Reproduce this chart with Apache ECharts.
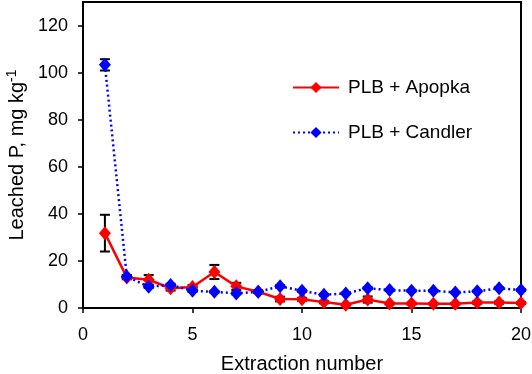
<!DOCTYPE html>
<html>
<head>
<meta charset="utf-8">
<script src="https://cdn.jsdelivr.net/npm/echarts@6/dist/echarts.min.js"></script>
<style>
  html, body { margin: 0; padding: 0; background: #fff; }
  #chart { width: 532px; height: 374px; }
</style>
</head>
<body>
<div id="chart"></div>
<script>
// extraction number on x
var extraction = [1, 2, 3, 4, 5, 6, 7, 8, 9, 10, 11, 12, 13, 14, 15, 16, 17, 18, 19, 20];
// leached P, mg/kg
var apopka = [31.8, 13.0, 12.0, 8.4, 8.9, 15.3, 9.2, 6.9, 3.8, 3.7, 2.5, 1.4, 3.6, 1.9, 1.9, 1.8, 1.8, 2.3, 2.3, 2.1];
var apopkaErr = [7.8, 0.8, 2.0, 1.0, 0.8, 3.0, 1.5, 0.6, 1.0, 0.6, 0.5, 0.3, 1.3, 0.4, 0.4, 0.3, 0.3, 0.5, 0.5, 0.4];
var candler = [103.3, 13.4, 9.0, 9.8, 7.3, 6.9, 6.2, 6.9, 9.2, 7.3, 5.6, 6.2, 8.4, 7.6, 7.3, 7.3, 6.6, 7.1, 8.4, 7.6];
var candlerErr = [2.4, 0.6, 0.5, 0.5, 0.4, 0.4, 0.4, 0.4, 0.5, 0.4, 0.3, 0.3, 0.4, 0.3, 0.3, 0.3, 0.3, 0.3, 0.4, 0.3];
var yTicks = [0, 20, 40, 60, 80, 100, 120];

function pairs(ys) {
    return extraction.map(function (x, i) { return [x, ys[i]]; });
}
function errData(ys, es) {
    return extraction.map(function (x, i) { return [x, ys[i] - es[i], ys[i] + es[i]]; });
}

// error bars (black with caps)
function renderErr(params, api) {
    var x = api.value(0);
    var lo = api.coord([x, api.value(1)]);
    var hi = api.coord([x, api.value(2)]);
    var w = 5;
    var st = { stroke: '#000', lineWidth: 2 };
    return {
        type: 'group',
        children: [
            { type: 'line', shape: { x1: lo[0], y1: lo[1], x2: hi[0], y2: hi[1] }, style: st },
            { type: 'line', shape: { x1: hi[0] - w, y1: hi[1], x2: hi[0] + w, y2: hi[1] }, style: st },
            { type: 'line', shape: { x1: lo[0] - w, y1: lo[1], x2: lo[0] + w, y2: lo[1] }, style: st }
        ]
    };
}

var font = 'Liberation Sans, Arial, sans-serif';
var myChart = echarts.init(document.getElementById('chart'));
myChart.setOption({
    animation: false,
    textStyle: { fontFamily: font },
    grid: { left: 83, right: 11, top: 2, bottom: 66, outerBoundsMode: 'none', containLabel: false },
    legend: {
        data: ['PLB + Apopka', 'PLB + Candler'],
        orient: 'vertical',
        left: 287,
        top: 73,
        itemWidth: 46,
        itemHeight: 14,
        itemGap: 26,
        textStyle: { fontSize: 19, color: '#000', fontFamily: font, padding: [0, 0, 0, 4] }
    },
    xAxis: {
        type: 'value',
        min: 0, max: 20, interval: 5,
        name: 'Extraction number',
        nameLocation: 'middle',
        nameGap: 46,
        nameTextStyle: { fontSize: 20, color: '#000' },
        axisLine: { lineStyle: { color: '#000', width: 2 } },
        axisTick: { length: 5, lineStyle: { color: '#000', width: 1.5 } },
        axisLabel: { fontSize: 18, color: '#000', margin: 18 },
        splitLine: { show: false }
    },
    yAxis: {
        type: 'value',
        min: 0, max: 130, interval: 20,
        name: '{a|Leached P, mg kg}{s|-1}',
        nameLocation: 'middle',
        nameGap: 50,
        nameTextStyle: {
            rich: {
                a: { fontSize: 20, color: '#000', fontFamily: font },
                s: { fontSize: 14, color: '#000', fontFamily: font, verticalAlign: 'top', padding: [0, 0, 10, 0] }
            }
        },
        axisLine: { lineStyle: { color: '#000', width: 2 } },
        axisTick: { length: 5, customValues: yTicks, lineStyle: { color: '#000', width: 1.5 } },
        axisLabel: { fontSize: 18, color: '#000', margin: 15, customValues: yTicks },
        splitLine: { show: false }
    },
    graphic: [{
        type: 'rect',
        shape: { x: 83, y: 2, width: 438, height: 306 },
        style: { fill: 'none', stroke: '#000', lineWidth: 2 },
        silent: true,
        z: 0
    }],
    series: [
        {
            type: 'custom',
            renderItem: renderErr,
            data: errData(apopka, apopkaErr),
            encode: { x: 0, y: [1, 2] },
            z: 1,
            silent: true
        },
        {
            type: 'custom',
            renderItem: renderErr,
            data: errData(candler, candlerErr),
            encode: { x: 0, y: [1, 2] },
            z: 1,
            silent: true
        },
        {
            name: 'PLB + Apopka',
            type: 'line',
            data: pairs(apopka),
            symbol: 'diamond',
            symbolSize: [12, 14],
            color: '#ff0000',
            lineStyle: { color: '#ff0000', width: 2.5 },
            itemStyle: { color: '#ff0000' },
            z: 3
        },
        {
            name: 'PLB + Candler',
            type: 'line',
            data: pairs(candler),
            symbol: 'diamond',
            symbolSize: [12, 14],
            color: '#0000ff',
            lineStyle: { color: '#0000ff', width: 2.5, type: [2, 3] },
            itemStyle: { color: '#0000ff' },
            z: 4
        }
    ]
});
</script>
</body>
</html>
